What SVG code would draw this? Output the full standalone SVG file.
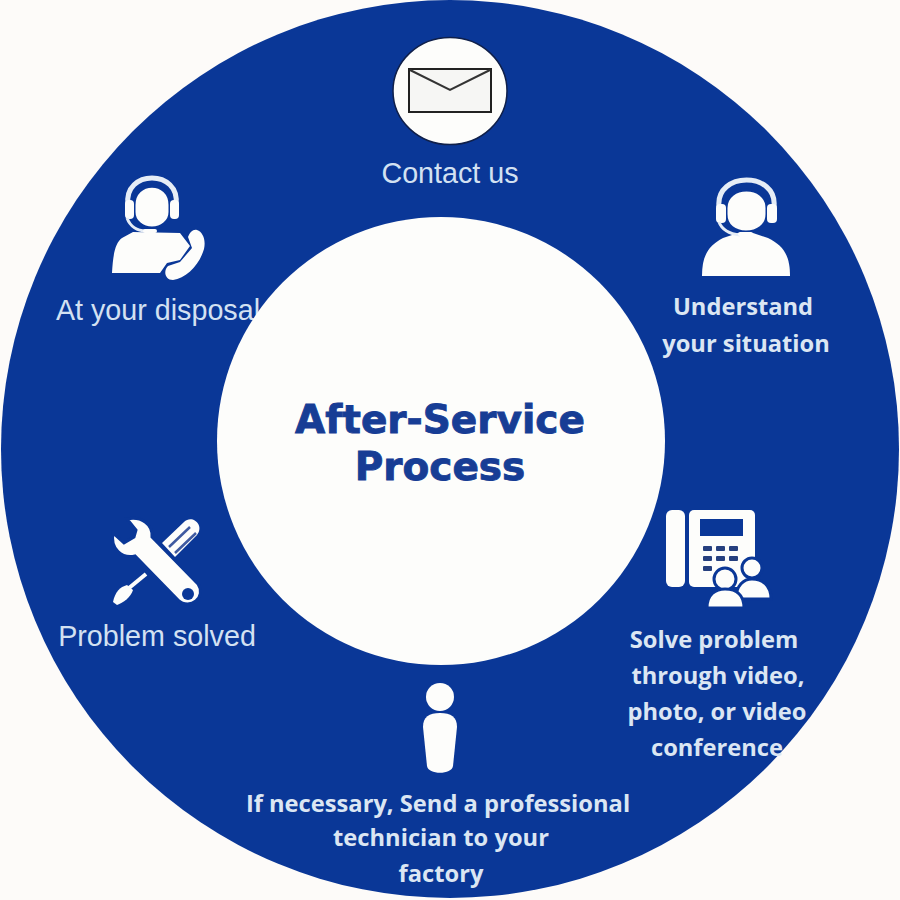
<svg xmlns="http://www.w3.org/2000/svg" width="900" height="900" viewBox="0 0 900 900">
<style>
.w{fill:#fdfdfb}
.k{fill:#0a3797}
.o{stroke:#0a3797;stroke-width:3}
.t{font-family:"Liberation Sans",Arial,sans-serif;font-size:28.7px;fill:#d3e1f2;text-anchor:middle}
.b{font-family:"Open Sans","Noto Sans",sans-serif;font-weight:700;font-size:23.7px;fill:#dbe6f3;text-anchor:middle}
.h{font-family:"DejaVu Sans",sans-serif;font-weight:700;font-size:39px;fill:#173d95;stroke:#173d95;stroke-width:.9;text-anchor:middle}
.l{fill:none;stroke:#e6edf6}
</style>
<rect width="900" height="900" fill="#fdfbf9"/>
<circle id="ring" cx="450" cy="449" r="449" fill="#0a3797"/>
<g id="contact">
<ellipse cx="450" cy="91" rx="57" ry="53.500" fill="#fdfdfb" stroke="#10204a" stroke-width="1.500"/>
<rect x="409" y="69" width="82" height="43" fill="#f6f6f4" stroke="#222" stroke-width="2"/>
<path d="M410 70L450 90L490 70" fill="none" stroke="#333" stroke-width="2"/>
<text class="t" x="450" y="183">Contact us</text>
</g>
<g id="understand">
<path class="w" d="M702 276C702 256 708 246 723 238L738 233L753 233L768 238C784 246 790 256 790 276Z"/>
<path class="w o" d="M726 208C726 184 767 184 767 208L767 214C767 226 757 232 746 232C735 232 726 226 726 214Z"/>
<path class="l" stroke-width="5" d="M719 207C715 171 778 171 774 207"/>
<rect class="w" x="716" y="204" width="10" height="19" rx="4"/>
<rect class="w" x="767" y="204" width="10" height="19" rx="4"/>
<path class="l" stroke-width="3" d="M719 222C722 230 730 234 740 235"/>
<rect class="w" x="738" y="232" width="15" height="4" rx="2"/>
<text class="b" x="743" y="315">Understand</text>
<text class="b" x="746" y="352">your situation</text>
</g>
<g id="video">
<rect class="w" x="666" y="510" width="19" height="77" rx="6"/>
<rect class="w" x="689" y="510" width="66" height="77" rx="5"/>
<rect class="k" x="700" y="519" width="43" height="17"/>
<g fill="#26407f">
<rect x="703" y="546" width="9" height="5" rx="1"/><rect x="716" y="546" width="9" height="5" rx="1"/><rect x="729" y="546" width="9" height="5" rx="1"/>
<rect x="703" y="556" width="9" height="5" rx="1"/><rect x="716" y="556" width="9" height="5" rx="1"/><rect x="729" y="556" width="9" height="5" rx="1"/>
<rect x="703" y="566" width="9" height="5" rx="1"/>
</g>
<circle class="w o" cx="752" cy="568" r="10"/>
<path class="w o" d="M736 599C736 585 744 579 752 579C762 579 771 585 771 599Z"/>
<circle class="w o" cx="725" cy="579" r="11"/>
<path class="w o" d="M707 608C707 594 716 589 725 589C735 589 744 594 744 608Z"/>
<text class="b" x="714" y="648">Solve problem</text>
<text class="b" x="718" y="684">through video,</text>
<text class="b" x="717" y="720">photo, or video</text>
<text class="b" x="717" y="756">conference</text>
</g>
<g id="technician">
<circle class="w" cx="440" cy="697" r="14"/>
<path class="w" d="M423 727C423 717 429 713 440 713C451 713 457 717 457 727L453 766C452 775 428 775 427 766Z"/>
<text class="b" x="438" y="812">If necessary, Send a professional</text>
<text class="b" x="441" y="846">technician to your</text>
<text class="b" x="441" y="882">factory</text>
</g>
<g id="solved">
<path class="w" d="M113 602C115 592 120 587 127 585L133 590C131 597 123 603 117 605Z"/>
<path fill="none" stroke="#fdfdfb" stroke-width="4" d="M129 588L146 574"/>
<path class="w" d="M162 543L184 522C192 514 205 525 197 535L175 557Z"/>
<path d="M169 547L190 527M175 553L196 533" fill="none" stroke="#3f5aa0" stroke-width="2.500"/>
<path class="w o" d="M127 519C141 516 153 524 152 537L198 584C207 597 190 611 178 600L135 556C122 559 110 549 113 533L124 543L134 537L136 530Z"/>
<circle class="k" cx="188" cy="594" r="6"/>
<text class="t" x="157" y="646">Problem solved</text>
</g>
<g id="disposal">
<path class="w" d="M112 273C113 255 115 243 122 238L133 232L180 233L190 246L180 260L167 263L160 273Z"/>
<path class="w o" d="M134 205C134 180 170 180 170 205L170 212C170 222 161 228 152 228C143 228 134 222 134 212Z"/>
<path class="l" stroke-width="5" d="M128 205C123 169 181 169 176 205"/>
<rect class="w" x="125" y="200" width="9" height="19" rx="4"/>
<rect class="w" x="170" y="200" width="9" height="19" rx="4"/>
<path class="l" stroke-width="3" d="M127 218C130 226 137 231 146 231"/>
<rect class="w" x="143" y="229" width="14" height="4" rx="2"/>
<path class="w" d="M197 230C203 232 206 240 204 249C199 266 186 278 173 280C165 280 163 271 168 266L180 262L192 248L188 237C190 232 193 229 197 230Z"/>
<text class="t" x="158" y="320">At your disposal</text>
</g>
<g id="center">
<circle cx="441" cy="441" r="224" fill="#fdfdfb"/>
<text class="h" x="440" y="433">After-Service</text>
<text class="h" x="440" y="480">Process</text>
</g>
</svg>
